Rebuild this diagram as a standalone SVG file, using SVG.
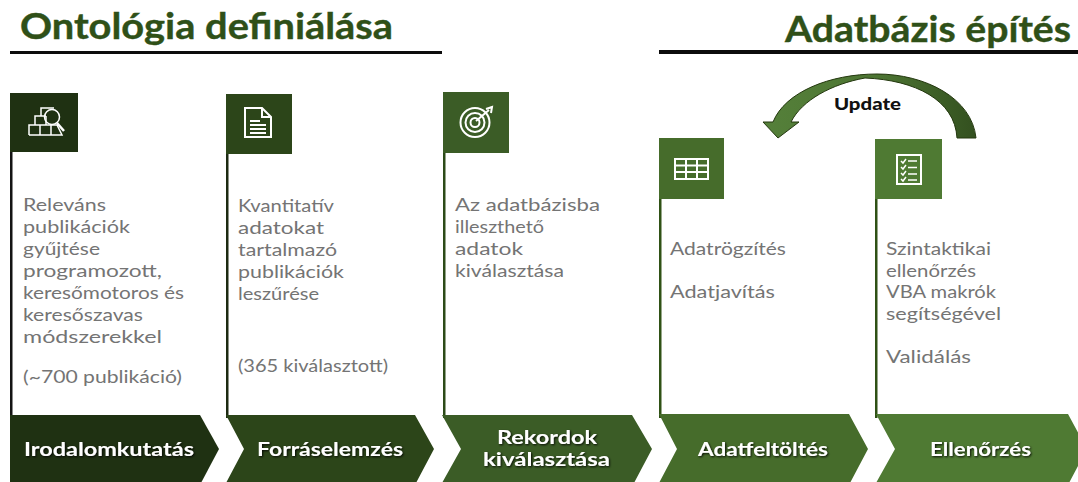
<svg xmlns="http://www.w3.org/2000/svg" width="1078" height="482" viewBox="0 0 1078 482">
<defs>
<linearGradient id="arrowFill" x1="0" y1="0" x2="1" y2="0"><stop offset="0" stop-color="#55803a"/><stop offset="0.55" stop-color="#4c7432"/><stop offset="1" stop-color="#33501f"/></linearGradient>
<filter id="sh" x="-10%" y="-30%" width="120%" height="160%"><feDropShadow dx="1" dy="1" stdDeviation="0.8" flood-color="#000" flood-opacity="0.9"/></filter>
</defs>
<style>
text{font-family:"Lato","Open Sans","Liberation Sans",sans-serif}
.title{font-size:37px;font-weight:700;fill:#2f5018;stroke:#2f5018;stroke-width:.4px}
.body{font-size:17px;fill:#747474;transform:translateY(1px)}
.chev{font-size:19px;font-weight:700;fill:#fff;filter:url(#sh)}
.upd{font-size:16px;font-weight:900;fill:#111}
.ic{fill:none;stroke:#fff;stroke-width:2}
.thin{stroke-width:1.5}
</style>
<rect width="1078" height="482" fill="#fff"/>
<g id="titles">
<text class="title" x="20" y="39" textLength="373" lengthAdjust="spacingAndGlyphs">Ontológia definiálása</text>
<rect x="10" y="51" width="432" height="3" fill="#0c0c0c"/>
<text class="title" x="785" y="42" textLength="286" lengthAdjust="spacingAndGlyphs">Adatbázis építés</text>
<rect x="659" y="50" width="419" height="4" fill="#0c0c0c"/>
</g>
<g id="connectors">
<path d="M976 138C972 98 925 74 877 74C830 74 785 92 773 122L763 122L778 138L799 122L791 122C802 100 832 84 865 78C915 80 955 100 957 138Z" fill="url(#arrowFill)" stroke="#24380f" stroke-width="1"/>
<text class="upd" x="834" y="110" textLength="67" lengthAdjust="spacingAndGlyphs">Update</text>
</g>
<g id="n1">
<rect x="10" y="93" width="2.5" height="325" fill="#141414"/>
<rect x="10" y="93" width="68" height="59" fill="#1f3112"/>
<g class="ic thin"><path d="M29 135V125L35 125V116H41V108H54M29 135H62L57 125H35M40 135V125M51 135V125M46 116V125M35 116H46M41 108V116"/><circle cx="52" cy="117" r="7.500"/><path d="M57 123L64 131" stroke-width="2.500"/></g>
<path d="M10 415H200L219 449L201 483H10Z" fill="#1f3112"/>
<text class="chev" x="24" y="456" textLength="170" lengthAdjust="spacingAndGlyphs">Irodalomkutatás</text>
<g class="body"><text x="23" y="210" textLength="83" lengthAdjust="spacingAndGlyphs">Releváns</text><text x="23" y="232" textLength="107" lengthAdjust="spacingAndGlyphs">publikációk</text><text x="23" y="254" textLength="77" lengthAdjust="spacingAndGlyphs">gyűjtése</text><text x="23" y="276" textLength="139" lengthAdjust="spacingAndGlyphs">programozott,</text><text x="23" y="298" textLength="161" lengthAdjust="spacingAndGlyphs">keresőmotoros és</text><text x="23" y="320" textLength="120" lengthAdjust="spacingAndGlyphs">keresőszavas</text><text x="23" y="342" textLength="139" lengthAdjust="spacingAndGlyphs">módszerekkel</text><text x="23" y="382" textLength="159" lengthAdjust="spacingAndGlyphs">(~700 publikáció)</text></g>
</g>
<g id="n2">
<rect x="226" y="94" width="2.5" height="324" fill="#1d2a12"/>
<rect x="226" y="94" width="66" height="60" fill="#2c4519"/>
<path d="M245 108H262L271 117V137H245ZM262 108V117H271M250 121H260M250 125H266M250 129H266M250 133H266" class="ic"/>
<path d="M226 415H415L434 449L416 483H226L244 449Z" fill="#2c4519"/>
<text class="chev" x="257" y="456" textLength="146" lengthAdjust="spacingAndGlyphs">Forráselemzés</text>
<g class="body"><text x="238" y="211" textLength="96" lengthAdjust="spacingAndGlyphs">Kvantitatív</text><text x="238" y="233" textLength="86" lengthAdjust="spacingAndGlyphs">adatokat</text><text x="238" y="255" textLength="99" lengthAdjust="spacingAndGlyphs">tartalmazó</text><text x="238" y="277" textLength="106" lengthAdjust="spacingAndGlyphs">publikációk</text><text x="238" y="299" textLength="81" lengthAdjust="spacingAndGlyphs">leszűrése</text><text x="238" y="371" textLength="150" lengthAdjust="spacingAndGlyphs">(365 kiválasztott)</text></g>
</g>
<g id="n3">
<rect x="443" y="92" width="2.5" height="326" fill="#2c4a18"/>
<rect x="443" y="92" width="66" height="61" fill="#3b5c26"/>
<g class="ic"><circle cx="475" cy="122.500" r="14.500"/><circle cx="475" cy="122.500" r="9.500"/><circle cx="475" cy="122.500" r="4.500"/><path d="M476 121L489 110M486 109L492 107L491 113"/></g>
<path d="M442 415H632L652 449L634 483H442L461 449Z" fill="#3b5c26"/>
<text class="chev" x="497" y="444" textLength="100" lengthAdjust="spacingAndGlyphs">Rekordok</text><text class="chev" x="483" y="466" textLength="127" lengthAdjust="spacingAndGlyphs">kiválasztása</text>
<g class="body"><text x="455" y="210" textLength="145" lengthAdjust="spacingAndGlyphs">Az adatbázisba</text><text x="455" y="232" textLength="89" lengthAdjust="spacingAndGlyphs">illeszthető</text><text x="455" y="254" textLength="68" lengthAdjust="spacingAndGlyphs">adatok</text><text x="455" y="276" textLength="109" lengthAdjust="spacingAndGlyphs">kiválasztása</text></g>
</g>
<g id="n4">
<rect x="659" y="138" width="2.500" height="280" fill="#2f5115"/>
<rect x="659" y="138" width="65" height="61" fill="#466c2b"/>
<g class="ic"><rect x="675" y="159" width="33" height="20"/><path d="M675 165.500H708M675 172H708M686 159V179M697 159V179"/></g>
<path d="M659 414H849L868 449L850 483H659L677 449Z" fill="#466c2b"/>
<text class="chev" x="698" y="456" textLength="130" lengthAdjust="spacingAndGlyphs">Adatfeltöltés</text>
<g class="body"><text x="670" y="254" textLength="116" lengthAdjust="spacingAndGlyphs">Adatrögzítés</text><text x="670" y="297" textLength="105" lengthAdjust="spacingAndGlyphs">Adatjavítás</text></g>
</g>
<g id="n5">
<rect x="875" y="139" width="2.500" height="279" fill="#2f5115"/>
<rect x="875" y="139" width="67" height="60" fill="#4f7a33"/>
<g class="ic"><rect x="897" y="155" width="24" height="29"/><path class="thin" d="M908 161H917M908 167.500H917M908 174H917M908 180H917M901 161L903 163L906 159M901 167L903 169L906 165M901 173L903 175L906 171M901 179L903 181L906 177"/></g>
<path d="M876 414H1068L1087 449L1069 483H876L895 449Z" fill="#4f7a33"/>
<text class="chev" x="930" y="456" textLength="101" lengthAdjust="spacingAndGlyphs">Ellenőrzés</text>
<g class="body"><text x="886" y="254" textLength="105" lengthAdjust="spacingAndGlyphs">Szintaktikai</text><text x="886" y="276" textLength="90" lengthAdjust="spacingAndGlyphs">ellenőrzés</text><text x="886" y="297" textLength="110" lengthAdjust="spacingAndGlyphs">VBA makrók</text><text x="886" y="319" textLength="115" lengthAdjust="spacingAndGlyphs">segítségével</text><text x="886" y="362" textLength="85" lengthAdjust="spacingAndGlyphs">Validálás</text></g>
</g>
</svg>
